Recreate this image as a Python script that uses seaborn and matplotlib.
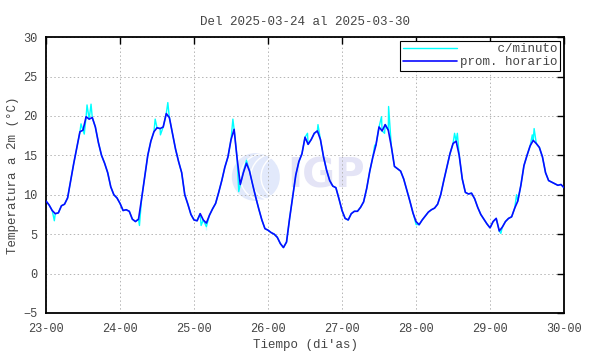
import matplotlib
matplotlib.use('Agg')
import matplotlib.pyplot as plt
from matplotlib.patches import Ellipse
import seaborn as sns
import pandas as pd
import numpy as np

# hourly mean temperature, one list per day (hours 0..23)
day23 = [9.2, 8.7, 8.0, 7.6, 7.7, 8.6, 8.8, 9.6, 11.8, 14.0, 16.0, 18.0,
         18.2, 19.9, 19.6, 19.8, 18.6, 16.6, 15.0, 14.0, 12.8, 11.0, 10.0, 9.6]
day24 = [8.9, 8.0, 8.1, 7.9, 6.9, 6.6, 6.9, 9.5, 12.3, 15.0, 16.8, 18.0,
         18.5, 18.4, 18.6, 20.3, 19.8, 17.8, 15.8, 14.2, 12.8, 10.0, 8.8, 7.5]
day25 = [6.8, 6.7, 7.6, 6.8, 6.4, 7.4, 8.2, 8.9, 10.3, 11.8, 13.5, 14.8,
         17.0, 18.3, 14.5, 11.3, 12.8, 14.0, 13.0, 11.3, 9.7, 8.2, 6.8, 5.7]
day26 = [5.5, 5.2, 5.0, 4.6, 3.8, 3.3, 4.0, 7.0, 9.8, 12.5, 14.2, 15.2,
         17.3, 16.4, 17.0, 17.8, 18.1, 17.0, 14.8, 13.1, 11.8, 11.1, 10.9, 9.5]
day27 = [8.0, 7.0, 6.8, 7.6, 7.9, 7.9, 8.4, 9.1, 10.8, 13.0, 14.8, 16.3,
         18.6, 18.1, 18.9, 18.2, 16.1, 13.6, 13.3, 13.0, 12.0, 10.6, 9.2, 7.7]
day28 = [6.6, 6.2, 6.8, 7.3, 7.8, 8.1, 8.3, 8.8, 10.0, 11.8, 13.5, 15.2,
         16.5, 16.8, 15.0, 12.0, 10.3, 10.1, 10.2, 9.5, 8.4, 7.5, 6.9, 6.3]
day29 = [5.8, 6.6, 7.0, 5.4, 5.9, 6.6, 7.0, 7.2, 8.3, 9.2, 11.2, 13.7,
         15.0, 16.2, 16.9, 16.5, 16.0, 14.8, 12.8, 11.8, 11.6, 11.4, 11.2, 11.3]
last_value = 10.9  # at 30-00

# per-minute extremes visible around the hourly line (hours since 23-00)
spike_hours = [2.7, 11.35, 12.4, 13.3, 14.6,
               30.3, 35.4, 37.1, 39.5,
               50.3, 52.0, 60.6, 62.5, 65.0,
               84.8, 88.2,
               106.6, 108.8, 109.8, 111.1, 120.0,
               132.5, 133.4,
               147.5, 152.6, 157.7, 158.3]
spike_values = [6.7, 19.0, 17.7, 21.4, 21.5,
                6.1, 19.6, 17.6, 21.7,
                6.1, 5.5, 19.6, 10.4, 14.7,
                17.8, 18.9,
                16.3, 19.9, 17.8, 21.2, 5.9,
                17.8, 17.8,
                5.1, 10.0, 17.6, 18.4]

tick_labels = ['23-00', '24-00', '25-00', '26-00', '27-00', '28-00', '29-00', '30-00']

hourly = day23 + day24 + day25 + day26 + day27 + day28 + day29 + [last_value]
hours = np.arange(len(hourly))
df_h = pd.DataFrame({'t': 23 + hours / 24, 'temp': hourly})

df_m = pd.concat([
    pd.DataFrame({'t': 23 + hours / 24, 'temp': hourly}),
    pd.DataFrame({'t': 23 + np.array(spike_hours) / 24, 'temp': spike_values}),
]).sort_values('t')

sns.set_theme(style='white')
plt.rcParams['font.family'] = ['Liberation Mono', 'DejaVu Sans Mono']

fig = plt.figure(figsize=(5.9, 3.54), dpi=100)
ax = fig.add_axes([0.078, 0.116, 0.878, 0.779])

# IGP watermark
ax.add_patch(Ellipse((0.405, 0.493), 0.0927, 0.174, transform=ax.transAxes,
                     facecolor='#e2e9fb', edgecolor='none', zorder=0))
for off in (-0.015, 0.005, 0.025):
    ax.add_patch(Ellipse((0.405 + off + 0.03, 0.493), 0.09, 0.17, transform=ax.transAxes,
                         facecolor='none', edgecolor='white', lw=1.0, zorder=0))
ax.text(0.465, 0.496, 'IGP', transform=ax.transAxes, ha='left', va='center',
        fontsize=29, fontweight='bold', family='DejaVu Sans', color='#e4e4f6', zorder=0)

sns.lineplot(data=df_m, x='t', y='temp', ax=ax, color='#00ffff', lw=1.0,
             label='     c/minuto', sort=False, zorder=2)
sns.lineplot(data=df_h, x='t', y='temp', ax=ax, color='#0a0aff', lw=1.2,
             label='prom. horario', zorder=3)

ax.set_xlim(23, 30)
ax.set_ylim(-5, 30)
ax.set_xticks(range(23, 31))
ax.set_xticklabels(tick_labels)
ax.set_yticks(range(-5, 31, 5))
ax.grid(True, color='#b4b4b4', linestyle=(0, (1.5, 2.5)), lw=0.7)
ax.tick_params(direction='in', top=True, right=True, length=5, width=1,
               labelsize=8.6, colors='black', labelcolor='#444444')
ax.tick_params(axis='x', pad=7)
ax.tick_params(axis='y', pad=6)
for s in ax.spines.values():
    s.set_color('black')
    s.set_linewidth(1.3)

ax.set_title('Del 2025-03-24 al 2025-03-30', fontsize=9, color='#444444', pad=9)
ax.set_xlabel('Tiempo (di\'as)', fontsize=9, color='#444444', labelpad=3)
ax.set_ylabel('Temperatura a 2m (°C)', fontsize=9, color='#444444', labelpad=3)

leg = ax.legend(loc='upper right', fontsize=9, frameon=True, fancybox=False,
                framealpha=1, edgecolor='black', borderaxespad=0.3,
                handlelength=4.3, handletextpad=0.3, borderpad=0.2, labelspacing=0.05)
leg.get_frame().set_linewidth(0.8)
for t in leg.get_texts():
    t.set_color('#444444')

fig.savefig('out.png', dpi=100)
